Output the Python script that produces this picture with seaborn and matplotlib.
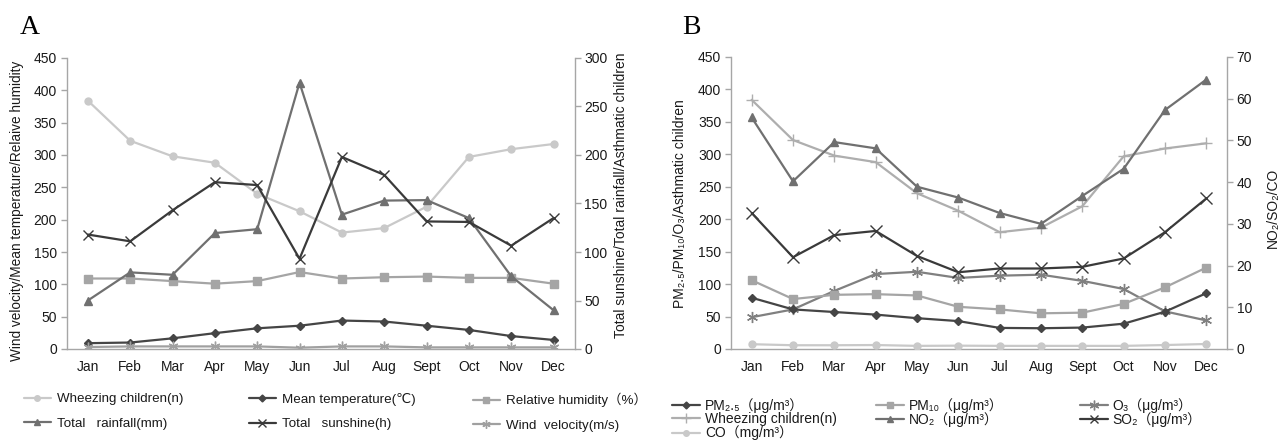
import numpy as np
import matplotlib
matplotlib.use("Agg")
import matplotlib.pyplot as plt
import seaborn as sns
from matplotlib.lines import Line2D

# ---------------- data ----------------
months = ["Jan", "Feb", "Mar", "Apr", "May", "Jun", "Jul", "Aug", "Sept", "Oct", "Nov", "Dec"]

# Panel A (left axis: wind / temperature / humidity / wheezing ; right axis: sunshine / rainfall)
wheezing = [384, 322, 298, 288, 240, 213, 180, 187, 220, 297, 309, 317]
mean_temp = [9, 10, 16.5, 24.5, 32, 36, 44, 42.5, 36, 29.5, 20, 14]
rel_humidity = [109, 109, 105, 101, 105, 119, 109, 111, 112, 110, 110, 101]
wind_velocity = [3, 4, 4, 4, 4, 2, 4, 4, 2.5, 2.5, 2.5, 2.5]
rainfall = [50, 79, 76.5, 119.5, 123.5, 274.5, 138.5, 153, 153.5, 135, 75, 40]
sunshine = [118, 111, 143, 172, 169, 93, 198, 179.5, 131.5, 131, 106.5, 135]

# Panel B (left axis: PM2.5 / PM10 / O3 / wheezing ; right axis: NO2 / SO2 / CO)
pm25 = [79, 61, 57, 53, 47.5, 43, 32.5, 32, 33, 39, 57.5, 86]
pm10 = [106, 77, 83.5, 84.5, 82.5, 65, 61, 55, 56, 69.5, 95, 125.5]
o3 = [49, 61, 89.5, 115.5, 119, 109.5, 113, 114.5, 105, 92.5, 58, 44]
no2 = [55.5, 40.2, 49.6, 48.1, 38.9, 36.3, 32.6, 30, 36.7, 43.2, 57.3, 64.6]
so2 = [32.6, 22, 27.3, 28.3, 22.3, 18.4, 19.3, 19.3, 19.7, 21.7, 28, 36.1]
co = [1.15, 0.9, 0.9, 0.95, 0.75, 0.8, 0.75, 0.75, 0.75, 0.75, 0.95, 1.2]

left_ticks = [0, 50, 100, 150, 200, 250, 300, 350, 400, 450]
right_ticks_a = [0, 50, 100, 150, 200, 250, 300]
right_ticks_b = [0, 10, 20, 30, 40, 50, 60, 70]

# ---------------- style ----------------
sns.set_theme(style="white")
FAM = ["Liberation Sans", "DejaVu Sans", "Noto Sans CJK SC"]
plt.rcParams["font.family"] = FAM
plt.rcParams["axes.unicode_minus"] = False

SPINE = "#a6a6a6"
TXT = "#1a1a1a"
ASTER = (6, 2, 0)
TFS = 10

fig = plt.figure(figsize=(12.79, 4.45), dpi=100)
axA = fig.add_axes([66.7 / 1279, 96 / 445, 508 / 1279, 291 / 445])
axB = fig.add_axes([731 / 1279, 96 / 445, 496 / 1279, 292 / 445])

x = np.arange(len(months))


def draw(ax, y, color, marker, ms, mew=1.0):
    sns.lineplot(x=x, y=y, ax=ax, color=color, marker=marker, markersize=ms,
                 markeredgecolor=color, markerfacecolor=color, markeredgewidth=mew,
                 linewidth=1.6, legend=False)


def style_axes(ax, ax2, ylim2, yticks2):
    ax.set_xlim(-0.5, len(months) - 0.5)
    ax.set_ylim(0, 450)
    ax.set_yticks(left_ticks)
    ax.set_xticks(x)
    ax.set_xticklabels(months)
    ax.set_xticks(np.arange(-0.5, len(months), 1), minor=True)
    ax.tick_params(axis="x", which="major", length=0, pad=8, labelsize=TFS, labelcolor=TXT)
    ax.tick_params(axis="x", which="minor", length=5, width=1, color=SPINE, direction="out")
    ax.tick_params(axis="y", which="major", length=4, width=1, color=SPINE, direction="out",
                   labelsize=TFS, labelcolor=TXT, pad=3, left=True)
    for s in ["top", "right"]:
        ax.spines[s].set_visible(False)
    for s in ["left", "bottom"]:
        ax.spines[s].set_color(SPINE)
        ax.spines[s].set_linewidth(1)
    ax2.set_ylim(*ylim2)
    ax2.set_yticks(yticks2)
    ax2.tick_params(axis="y", which="major", length=4, width=1, color=SPINE, direction="out",
                    labelsize=TFS, labelcolor=TXT, pad=3, right=True)
    for s in ["top", "left", "bottom"]:
        ax2.spines[s].set_visible(False)
    ax2.spines["right"].set_color(SPINE)
    ax2.spines["right"].set_linewidth(1)
    ax.grid(False)
    ax2.grid(False)


# ---------------- Panel A ----------------
cA = dict(wheeze="#c9c9c9", temp="#454545", hum="#a5a5a5", wind="#a0a0a0",
          rain="#707070", sun="#3a3a3a")
axA2 = axA.twinx()
draw(axA, wheezing, cA["wheeze"], "o", 5)
draw(axA, rel_humidity, cA["hum"], "s", 5.5)
draw(axA, mean_temp, cA["temp"], "D", 4.5)
draw(axA, wind_velocity, cA["wind"], ASTER, 7, 1.0)
draw(axA2, rainfall, cA["rain"], "^", 6)
draw(axA2, sunshine, cA["sun"], "x", 7, 1.0)
style_axes(axA, axA2, (0, 300), right_ticks_a)
axA.set_ylabel("Wind velocity/Mean temperature/Relaive humidity", fontsize=9.8, color=TXT)
axA.yaxis.set_label_coords(-0.084, 0.474)
axA2.set_ylabel("Total sunshine/Total rainfall/Asthmatic children", fontsize=10, color=TXT)
axA2.yaxis.set_label_coords(1.077, 0.53)

# ---------------- Panel B ----------------
cB = dict(pm25="#454545", pm10="#a5a5a5", o3="#808080", wheeze="#aeaeae",
          no2="#707070", so2="#3a3a3a", co="#c9c9c9")
axB2 = axB.twinx()
draw(axB, wheezing, cB["wheeze"], "+", 8, 1.0)
draw(axB, o3, cB["o3"], ASTER, 8, 1.0)
draw(axB, pm10, cB["pm10"], "s", 5.5)
draw(axB, pm25, cB["pm25"], "D", 4.5)
draw(axB2, co, cB["co"], "o", 5)
draw(axB2, so2, cB["so2"], "x", 8, 1.0)
draw(axB2, no2, cB["no2"], "^", 6)
style_axes(axB, axB2, (0, 70), right_ticks_b)
axB.set_ylabel("PM\u2082.\u2085/PM\u2081\u2080/O\u2083/Asthmatic children", fontsize=10, color=TXT)
axB.yaxis.set_label_coords(-0.089, 0.497)
axB2.set_ylabel("NO\u2082/SO\u2082/CO", fontsize=10, color=TXT)
axB2.yaxis.set_label_coords(1.079, 0.483)

# panel letters
fig.text(20 / 1279, 1 - 34 / 445, "A", fontsize=20, family=["Liberation Serif", "DejaVu Serif"],
         color="black", ha="left", va="baseline")
fig.text(682 / 1279, 1 - 34 / 445, "B", fontsize=20, family=["Liberation Serif", "DejaVu Serif"],
         color="black", ha="left", va="baseline")


def h(color, marker, ms, mew=1.0):
    return Line2D([], [], color=color, marker=marker, markersize=ms, markeredgecolor=color,
                  markerfacecolor=color, markeredgewidth=mew, linewidth=1.6)


def col_legend(handles, labels, xpix, ytop, fs, spacing, hl, pad):
    leg = fig.legend(handles, labels, loc="upper left", bbox_to_anchor=(xpix / 1279, ytop),
                     frameon=False, fontsize=fs, borderpad=0, borderaxespad=0,
                     labelspacing=spacing, handlelength=hl, handletextpad=pad,
                     labelcolor=TXT)
    return leg


# legends panel A (two rows, three columns)
yA = 1 - 393 / 445
col_legend([h(cA["wheeze"], "o", 4), h(cA["rain"], "^", 5)],
           ["Wheezing children(n)", "Total   rainfall(mm)"], 24, yA, 9.6, 0.9, 2.0, 0.45)
col_legend([h(cA["temp"], "D", 3.5), h(cA["sun"], "x", 6)],
           ["Mean temperature(\u2103)", "Total   sunshine(h)"], 249, yA, 9.6, 0.9, 2.0, 0.45)
col_legend([h(cA["hum"], "s", 4.5), h(cA["wind"], ASTER, 6)],
           ["Relative humidity\uff08%\uff09", "Wind  velocity(m/s)"], 473, yA, 9.6, 0.9, 2.0, 0.45)

# legends panel B (three rows)
yB = 1 - 398 / 445
col_legend([h(cB["pm25"], "D", 3.5), h(cB["wheeze"], "+", 7), h(cB["co"], "o", 4)],
           ["PM\u2082.\u2085\uff08\u03bcg/m\u00b3\uff09", "Wheezing children(n)",
            "CO\uff08mg/m\u00b3\uff09"], 672, yB, 10, -0.05, 2.0, 0.36)
col_legend([h(cB["pm10"], "s", 4.5), h(cB["no2"], "^", 5)],
           ["PM\u2081\u2080\uff08\u03bcg/m\u00b3\uff09", "NO\u2082\uff08\u03bcg/m\u00b3\uff09"],
           876, yB, 10, -0.05, 2.0, 0.36)
col_legend([h(cB["o3"], ASTER, 7), h(cB["so2"], "x", 6)],
           ["O\u2083\uff08\u03bcg/m\u00b3\uff09", "SO\u2082\uff08\u03bcg/m\u00b3\uff09"],
           1080, yB, 10, -0.05, 2.0, 0.36)

fig.savefig("out.png", dpi=100)
